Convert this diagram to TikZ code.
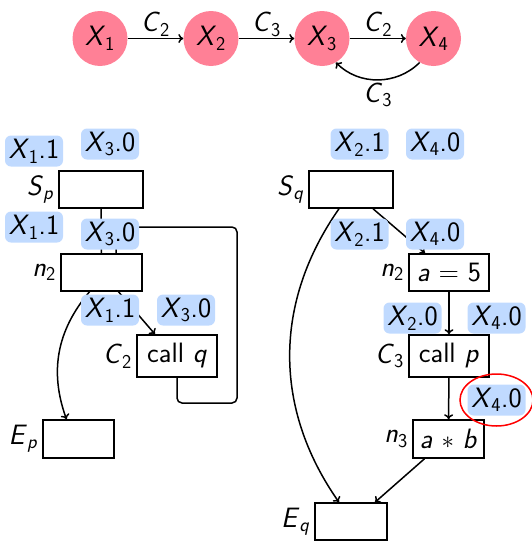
\documentclass[tikz,border=0pt]{standalone}
\usepackage{fontspec}
\usetikzlibrary{arrows.meta}
\renewcommand\familydefault{\sfdefault}
\definecolor{pk}{RGB}{255,128,150}
\definecolor{lb}{RGB}{192,218,255}
\newcommand\Vs[2]{\textit{#1}\textsubscript{#2}}
\newcommand\Vi[2]{\textit{#1}\textsubscript{\textit{#2}}}
\begin{document}
\begin{tikzpicture}[x=1pt,y=-1pt,font=\fontsize{28}{32}\selectfont,
  circ/.style={circle,fill=pk,minimum size=55pt,inner sep=0pt},
  lab/.style={fill=lb,rounded corners=6pt,minimum width=58pt,minimum height=31pt,inner sep=1pt},
  bx/.style={draw,line width=1.5pt,minimum height=37pt,inner sep=2pt},
  ln/.style={line width=1.5pt},
  arr/.style={line width=1.5pt,-{To[length=5pt,width=9pt]}}]
\useasboundingbox (0,0) rectangle (532,541);
% top graph
\node[circ] (x1) at (100,38.5) {\Vs X1};
\node[circ] (x2) at (211,38.5) {\Vs X2};
\node[circ] (x3) at (322,38.5) {\Vs X3};
\node[circ] (x4) at (433.5,38.5) {\Vs X4};
\draw[arr] (x1) -- node[above=-2pt] (c12) {\Vs C2} (x2);
\draw[arr] (x2) -- node[above=-2pt] (c23) {\Vs C3} (x3);
\draw[arr] (x3) -- node[above=-2pt] (c34) {\Vs C2} (x4);
\draw[arr] (x4.-120) to[bend left=45] node[below=-1pt] (c43) {\Vs C3} (x3.-60);
% left procedure
\node[bx,minimum width=84pt] (sp) at (101,189.5) {};
\node[left=1pt] (spl) at (sp.west) {\Vi Sp};
\node[bx,minimum width=81pt] (n2) at (101.5,272.5) {};
\node[left=1pt] (n2l) at (n2.west) {\Vs n2};
\node[bx,minimum width=80pt,minimum height=42pt] (c2) at (177,356) {call \textit{q}};
\node[left=1pt] (c2l) at (c2.west) {\Vs C2};
\node[bx,minimum width=71pt,minimum height=38pt] (ep) at (78.5,439) {};
\node[left=1pt] (epl) at (ep.west) {\Vi Ep};
\coordinate (r1) at (237,403);
\coordinate (r2) at (116,227);
\coordinate (r3) at (116,254);
\coordinate (n2a) at ([xshift=-12pt]n2.south);
\draw[ln] (sp) -- (n2);
\draw[ln,rounded corners=5pt] (c2.south) |- (r1) |- (r2) -- (r3);
\draw[arr] (n2a) to[bend right=30] ([xshift=-12pt]ep.north);
\draw[arr] ([xshift=17pt]n2.south) -- ([xshift=-22pt]c2.north);
% right procedure
\node[bx,minimum width=84pt] (sq) at (351,189.5) {};
\node[left=1pt] (sql) at (sq.west) {\Vi Sq};
\node[bx,minimum width=80pt] (m2) at (449,272.5) {\textit{a} = 5};
\node[left=1pt] (m2l) at (m2.west) {\Vs n2};
\node[bx,minimum width=80pt,minimum height=42pt] (c3) at (449,356) {call \textit{p}};
\node[left=1pt] (c3l) at (c3.west) {\Vs C3};
\node[bx,minimum width=71pt,minimum height=38pt] (m3) at (448.5,439) {\textit{a} $\ast$ \textit{b}};
\node[left=1pt] (m3l) at (m3.west) {\Vs n3};
\node[bx,minimum width=72pt] (eq) at (351,521.5) {};
\node[left=1pt] (eql) at (eq.west) {\Vi Eq};
\draw[arr] ([xshift=22pt]sq.south) -- ([xshift=-24pt]m2.north);
\draw[arr] (m2) -- (c3);
\draw[arr] (c3) -- (m3);
\draw[arr] ([xshift=-24pt]m3.south) -- ([xshift=24pt]eq.north);
\draw[arr] ([xshift=-12pt]sq.south) to[bend right=35] ([xshift=-12pt]eq.north);
% labels
\node[lab] (l1) at (34,151) {\Vs X1.1};
\node[lab] (l2) at (110,144) {\Vs X3.0};
\node[lab] (l3) at (34,227) {\Vs X1.1};
\node[lab] (l4) at (110,234) {\Vs X3.0};
\node[lab] (l5) at (110,310) {\Vs X1.1};
\node[lab] (l6) at (186,310) {\Vs X3.0};
\node[lab] (l7) at (359.5,144) {\Vs X2.1};
\node[lab] (l8) at (435,144) {\Vs X4.0};
\node[lab] (l9) at (359.5,234) {\Vs X2.1};
\node[lab] (l10) at (435,234) {\Vs X4.0};
\node[lab] (l11) at (412.5,318) {\Vs X2.0};
\node[lab] (l12) at (496.5,318) {\Vs X4.0};
\node[lab] (l13) at (496.5,400) {\Vs X4.0};
\draw[red,line width=1.5pt] (l13.center) ellipse [x radius=36.5pt,y radius=26pt];
\end{tikzpicture}
\end{document}
